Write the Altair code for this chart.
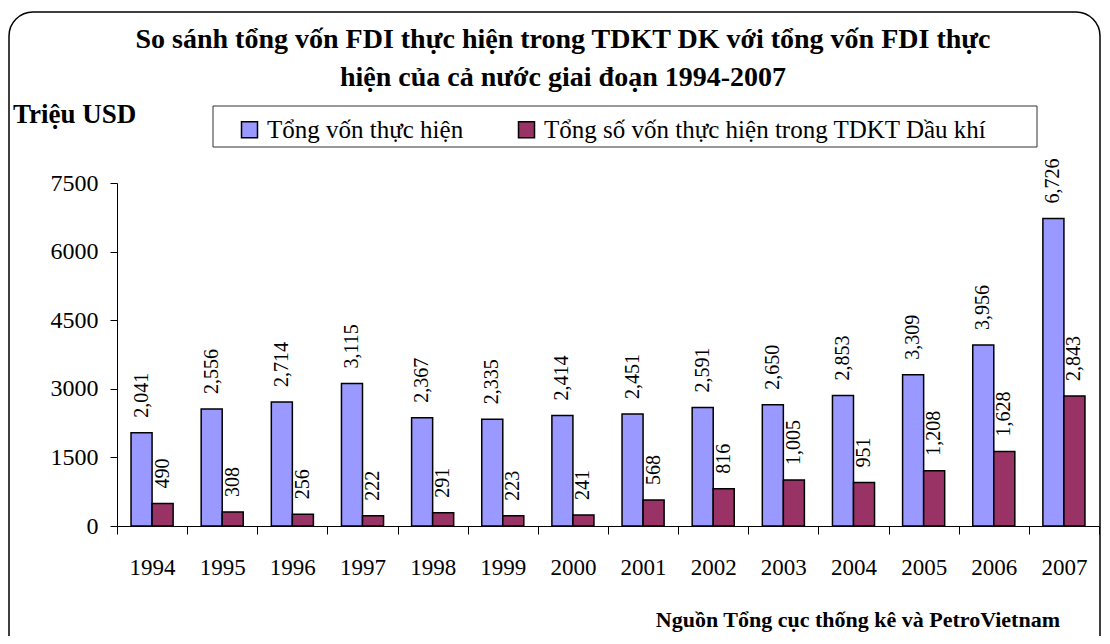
import altair as alt
import pandas as pd

years = ["1994", "1995", "1996", "1997", "1998", "1999", "2000",
         "2001", "2002", "2003", "2004", "2005", "2006", "2007"]
total_fdi = [2041, 2556, 2714, 3115, 2367, 2335, 2414,
             2451, 2591, 2650, 2853, 3309, 3956, 6726]
oil_gas_fdi = [490, 308, 256, 222, 291, 223, 241,
               568, 816, 1005, 951, 1208, 1628, 2843]
series = ["Tổng vốn thực hiện", "Tổng số vốn thực hiện trong TDKT Dầu khí"]
colors = ["#9999FF", "#993366"]
y_ticks = [0, 1500, 3000, 4500, 6000, 7500]

title_1 = "So sánh tổng vốn FDI thực hiện trong TDKT DK với tổng vốn FDI thực"
title_2 = "hiện của cả nước giai đoạn 1994-2007"
unit_text = "Triệu USD"
source_text = "Nguồn Tổng cục thống kê và PetroVietnam"

rows = []
for i, yr in enumerate(years):
    rows.append({"year": yr, "series": series[0], "value": total_fdi[i]})
    rows.append({"year": yr, "series": series[1], "value": oil_gas_fdi[i]})
df = pd.DataFrame(rows)

FONT = "'Liberation Serif', 'Times New Roman', serif"
W, H = 982, 343

x_enc = alt.X(
    "year:N", sort=years,
    scale=alt.Scale(paddingInner=0, paddingOuter=0),
    axis=alt.Axis(title=None, labelAngle=0, tickBand="extent", tickSize=8,
                  labelPadding=22, labelFontSize=23, labelFont=FONT,
                  labelColor="black", domainColor="black", tickColor="black",
                  domainWidth=1, tickWidth=1, grid=False),
)
xoff_enc = alt.XOffset("series:N", sort=series,
                       scale=alt.Scale(domain=series, paddingInner=0, paddingOuter=0.667))
y_enc = alt.Y(
    "value:Q",
    scale=alt.Scale(domain=[0, 7500], nice=False),
    axis=alt.Axis(title=None, values=y_ticks, format="d", tickSize=7,
                  labelPadding=12, labelFontSize=24, labelFont=FONT,
                  labelColor="black", domainColor="black", tickColor="black",
                  domainWidth=1, tickWidth=1, grid=False),
)
color_enc = alt.Color(
    "series:N", sort=series,
    scale=alt.Scale(domain=series, range=colors),
    legend=alt.Legend(
        title=None, orient="none", legendX=120, legendY=-66,
        direction="horizontal", symbolType="square", symbolSize=256,
        symbolStrokeColor="black", symbolStrokeWidth=1.5,
        labelFont=FONT, labelFontSize=25, labelColor="black",
        labelOffset=5, labelLimit=1000, columnPadding=50, padding=0,
    ),
)

one = pd.DataFrame({"k": [0]})

frame = alt.Chart(one).mark_rect(
    fill="white", fillOpacity=0, stroke="black", strokeWidth=1.5, cornerRadius=24
).encode(x=alt.value(-108), x2=alt.value(983), y=alt.value(-171), y2=alt.value(480))

legend_box = alt.Chart(one).mark_rect(
    fill="white", stroke="#333333", strokeWidth=1
).encode(x=alt.value(96), x2=alt.value(920), y=alt.value(-77), y2=alt.value(-36))

bars = alt.Chart(df).mark_bar(stroke="black", strokeWidth=1.5).encode(
    x=x_enc, xOffset=xoff_enc, y=y_enc, color=color_enc
)

labels = alt.Chart(df).mark_text(
    angle=270, align="left", baseline="middle", dx=15,
    font=FONT, fontSize=20, color="black"
).encode(
    x=x_enc, xOffset=xoff_enc, y=y_enc,
    text=alt.Text("value:Q", format=",")
)

def text_layer(txt, x, y, size, weight="bold", align="center"):
    return alt.Chart(one).mark_text(
        text=txt, font=FONT, fontSize=size, fontWeight=weight, color="black",
        align=align, baseline="alphabetic"
    ).encode(x=alt.value(x), y=alt.value(y))

t1 = text_layer(title_1, 446, -135, 28)
t2 = text_layer(title_2, 446, -97, 28)
unit = text_layer(unit_text, -104, -60, 27, align="left")
src = text_layer(source_text, 943, 444, 22, align="right")

chart = alt.layer(frame, legend_box, bars, labels, t1, t2, unit, src).properties(
    width=W, height=H,
    autosize=alt.AutoSizeParams(type="none"),
    padding={"left": 109, "top": 175, "right": 3, "bottom": 110},
    background="white",
).configure_view(strokeWidth=0)

chart.save("out.html", embed_options={"renderer": "svg", "actions": False})
